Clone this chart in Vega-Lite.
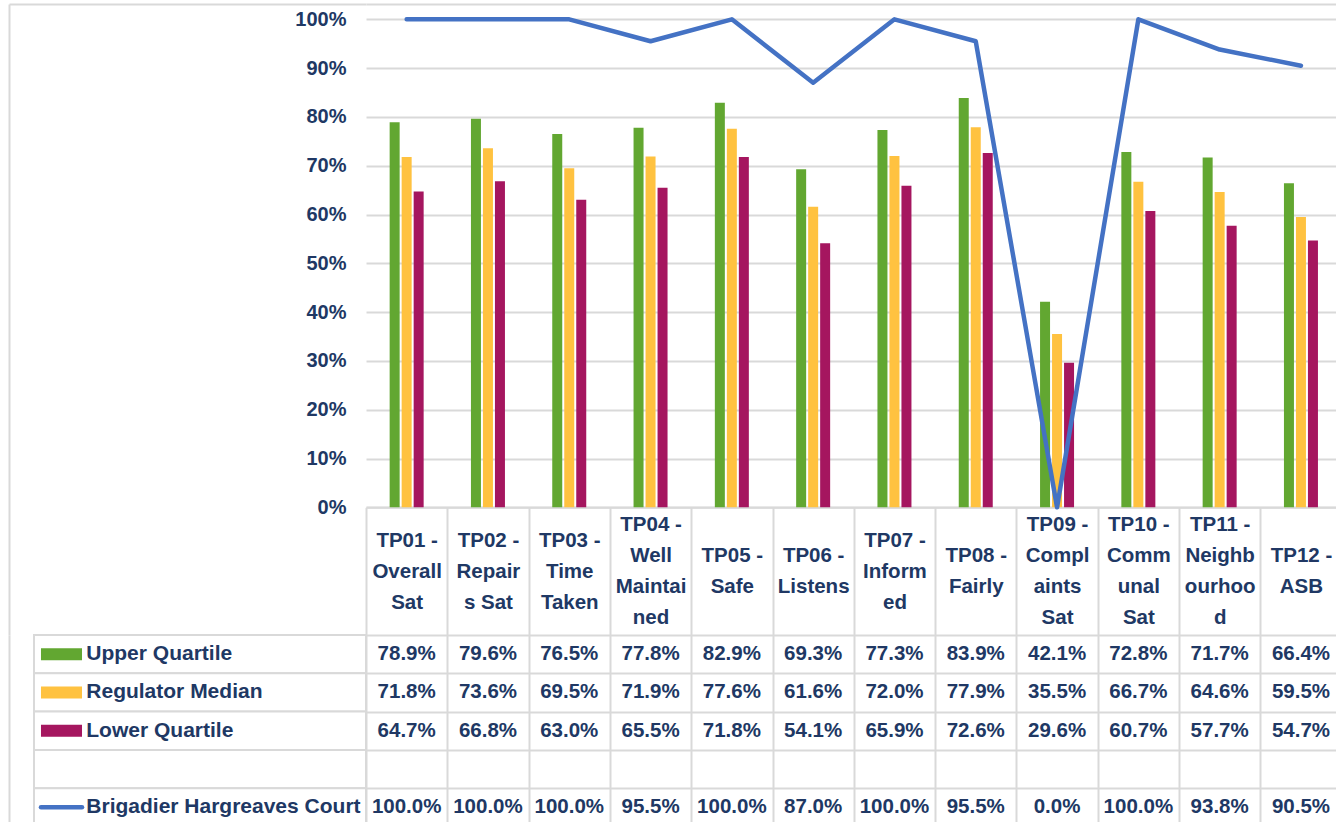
{
  "$schema": "https://vega.github.io/schema/vega-lite/v6.json",
  "background": "white",
  "padding": {"left": 9, "top": 4, "right": 0, "bottom": 0},
  "autosize": {"type": "pad"},
  "config": {"view": {"stroke": null}, "font": "Liberation Sans"},
  "datasets": {
    "tp": [
      {"cat": "TP01 -\nOverall\nSat", "Upper Quartile": 0.789, "Regulator Median": 0.718, "Lower Quartile": 0.647, "Brigadier Hargreaves Court": 1.0},
      {"cat": "TP02 -\nRepair\ns Sat", "Upper Quartile": 0.796, "Regulator Median": 0.736, "Lower Quartile": 0.668, "Brigadier Hargreaves Court": 1.0},
      {"cat": "TP03 -\nTime\nTaken", "Upper Quartile": 0.765, "Regulator Median": 0.695, "Lower Quartile": 0.630, "Brigadier Hargreaves Court": 1.0},
      {"cat": "TP04 -\nWell\nMaintai\nned", "Upper Quartile": 0.778, "Regulator Median": 0.719, "Lower Quartile": 0.655, "Brigadier Hargreaves Court": 0.955},
      {"cat": "TP05 -\nSafe", "Upper Quartile": 0.829, "Regulator Median": 0.776, "Lower Quartile": 0.718, "Brigadier Hargreaves Court": 1.0},
      {"cat": "TP06 -\nListens", "Upper Quartile": 0.693, "Regulator Median": 0.616, "Lower Quartile": 0.541, "Brigadier Hargreaves Court": 0.870},
      {"cat": "TP07 -\nInform\ned", "Upper Quartile": 0.773, "Regulator Median": 0.720, "Lower Quartile": 0.659, "Brigadier Hargreaves Court": 1.0},
      {"cat": "TP08 -\nFairly", "Upper Quartile": 0.839, "Regulator Median": 0.779, "Lower Quartile": 0.726, "Brigadier Hargreaves Court": 0.955},
      {"cat": "TP09 -\nCompl\naints\nSat", "Upper Quartile": 0.421, "Regulator Median": 0.355, "Lower Quartile": 0.296, "Brigadier Hargreaves Court": 0.0},
      {"cat": "TP10 -\nComm\nunal\nSat", "Upper Quartile": 0.728, "Regulator Median": 0.667, "Lower Quartile": 0.607, "Brigadier Hargreaves Court": 1.0},
      {"cat": "TP11 -\nNeighb\nourhoo\nd", "Upper Quartile": 0.717, "Regulator Median": 0.646, "Lower Quartile": 0.577, "Brigadier Hargreaves Court": 0.938},
      {"cat": "TP12 -\nASB", "Upper Quartile": 0.664, "Regulator Median": 0.595, "Lower Quartile": 0.547, "Brigadier Hargreaves Court": 0.905}
    ],
    "rows": [
      {"row": "Upper Quartile"},
      {"row": "Regulator Median"},
      {"row": "Lower Quartile"},
      {"row": " "},
      {"row": "Brigadier Hargreaves Court"}
    ]
  },
  "columns": 2,
  "bounds": "flush",
  "spacing": {"row": 0, "column": 0},
  "concat": [
    {
      "width": 357,
      "height": 631,
      "data": {"values": []},
      "mark": "point",
      "encoding": {
        "x": {"field": "a", "type": "quantitative", "scale": {"domain": [0, 1]},
          "axis": {"orient": "top", "title": null, "labels": false, "ticks": false, "grid": false, "domainColor": "#D9D9D9", "domainWidth": 2}},
        "y": {"field": "b", "type": "quantitative", "scale": {"domain": [0, 1]},
          "axis": {"orient": "left", "title": null, "labels": false, "ticks": false, "grid": false, "domainColor": "#D9D9D9", "domainWidth": 2}}
      }
    },
    {
      "width": 975.6,
      "height": 503.3,
      "data": {"name": "tp"},
      "resolve": {"scale": {"x": "independent"}, "axis": {"x": "independent"}},
      "layer": [
        {
          "transform": [{"fold": ["Upper Quartile", "Regulator Median", "Lower Quartile"], "as": ["series", "value"]}],
          "mark": {"type": "bar"},
          "encoding": {
            "x": {
              "field": "cat", "type": "nominal", "sort": null,
              "scale": {"paddingInner": 0.5818, "paddingOuter": 0.2909},
              "axis": {"orient": "top", "title": null, "labels": false, "ticks": false, "grid": false, "domainColor": "#D9D9D9", "domainWidth": 2}
            },
            "xOffset": {
              "field": "series", "type": "nominal",
              "scale": {"domain": ["Upper Quartile", "Regulator Median", "Lower Quartile"], "paddingInner": 0.1667, "paddingOuter": 0}
            },
            "y": {
              "field": "value", "type": "quantitative",
              "scale": {"domain": [0, 1.0314], "nice": false},
              "axis": {
                "title": null, "values": [0, 0.1, 0.2, 0.3, 0.4, 0.5, 0.6, 0.7, 0.8, 0.9, 1.0],
                "format": ".0%", "domain": false, "ticks": false,
                "grid": true, "gridColor": "#D9D9D9", "gridWidth": 2,
                "labelFontSize": 20, "labelFontWeight": "bold", "labelColor": "#203864", "labelPadding": 20
              }
            },
            "color": {
              "field": "series", "type": "nominal",
              "scale": {"domain": ["Upper Quartile", "Regulator Median", "Lower Quartile", "Brigadier Hargreaves Court"], "range": ["#62A731", "#FFC240", "#A5165F", "#4472C4"]},
              "legend": null
            }
          }
        },
        {
          "mark": {"type": "line", "color": "#4472C4", "strokeWidth": 4.5, "strokeJoin": "round", "strokeCap": "round"},
          "encoding": {
            "x": {
              "field": "cat", "type": "nominal", "sort": null,
              "scale": {"paddingInner": 0, "paddingOuter": 0},
              "axis": {
                "title": null, "orient": "bottom",
                "labelExpr": "split(datum.label, '\\n')",
                "labelAngle": 0, "labelFontSize": 20.5, "labelFontWeight": "bold", "labelColor": "#203864",
                "labelBaseline": "middle", "labelLineHeight": 31,
                "labelPadding": {
                  "condition": [
                    {"test": "length(split(datum.value, '\\n')) == 2", "value": -79.5},
                    {"test": "length(split(datum.value, '\\n')) == 4", "value": -110.5}
                  ],
                  "value": -95
                },
                "labelLimit": 0, "labelOverlap": false,
                "tickBand": "extent", "tickSize": 128, "tickColor": "#D9D9D9", "tickWidth": 2,
                "domainColor": "#D9D9D9", "domainWidth": 2, "grid": false
              }
            },
            "y": {"field": "Brigadier Hargreaves Court", "type": "quantitative", "title": null}
          }
        }
      ]
    },
    {
      "width": 357,
      "height": 191.5,
      "data": {"name": "rows"},
      "layer": [
        {
          "mark": {"type": "rect", "fill": "white", "stroke": "#D9D9D9", "strokeWidth": 2},
          "encoding": {
            "y": {
              "field": "row", "type": "nominal",
              "scale": {"domain": ["Upper Quartile", "Regulator Median", "Lower Quartile", " ", "Brigadier Hargreaves Court"], "paddingInner": 0, "paddingOuter": 0},
              "axis": {"title": null, "labels": false, "ticks": false, "grid": false, "domainColor": "#D9D9D9", "domainWidth": 2}
            },
            "x": {"datum": 0.07003, "type": "quantitative", "scale": {"domain": [0, 1], "nice": false, "zero": false}, "axis": null},
            "x2": {"datum": 1}
          }
        },
        {
          "transform": [{"filter": "datum.row !== 'Brigadier Hargreaves Court' && datum.row !== ' '"}],
          "mark": {"type": "rule", "strokeCap": "butt", "strokeWidth": 12},
          "encoding": {
            "y": {"field": "row", "type": "nominal", "bandPosition": 0.5},
            "x": {"datum": 0.0896, "type": "quantitative"},
            "x2": {"datum": 0.2045},
            "color": {"field": "row", "type": "nominal", "legend": null}
          }
        },
        {
          "transform": [{"filter": "datum.row === 'Brigadier Hargreaves Court'"}],
          "mark": {"type": "rule", "strokeCap": "round", "strokeWidth": 4.5},
          "encoding": {
            "y": {"field": "row", "type": "nominal", "bandPosition": 0.5},
            "x": {"datum": 0.0896, "type": "quantitative"},
            "x2": {"datum": 0.2045},
            "color": {"field": "row", "type": "nominal", "legend": null}
          }
        },
        {
          "mark": {"type": "text", "align": "left", "baseline": "middle", "fontSize": 21, "fontWeight": "bold", "color": "#203864"},
          "encoding": {
            "y": {"field": "row", "type": "nominal", "bandPosition": 0.5},
            "x": {"datum": 0.2165, "type": "quantitative"},
            "text": {"field": "row"}
          }
        }
      ]
    },
    {
      "width": 975.6,
      "height": 191.5,
      "data": {"name": "tp"},
      "transform": [{"fold": ["Upper Quartile", "Regulator Median", "Lower Quartile", "Brigadier Hargreaves Court"], "as": ["series", "value"]}],
      "mark": {"type": "text", "fontSize": 20.5, "fontWeight": "bold", "color": "#203864", "baseline": "middle"},
      "encoding": {
        "x": {
          "field": "cat", "type": "nominal", "sort": null,
          "scale": {"paddingInner": 0, "paddingOuter": 0},
          "axis": {"title": null, "orient": "top", "labels": false, "ticks": false, "domain": false, "grid": true, "tickBand": "extent", "gridColor": "#D9D9D9", "gridWidth": 2}
        },
        "y": {
          "field": "series", "type": "nominal",
          "scale": {"domain": ["Upper Quartile", "Regulator Median", "Lower Quartile", " ", "Brigadier Hargreaves Court"], "paddingInner": 0, "paddingOuter": 0},
          "axis": {"title": null, "labels": false, "ticks": false, "domain": false, "grid": true, "tickBand": "extent", "gridColor": "#D9D9D9", "gridWidth": 2}
        },
        "text": {"field": "value", "type": "quantitative", "format": ".1%"}
      }
    }
  ]
}
